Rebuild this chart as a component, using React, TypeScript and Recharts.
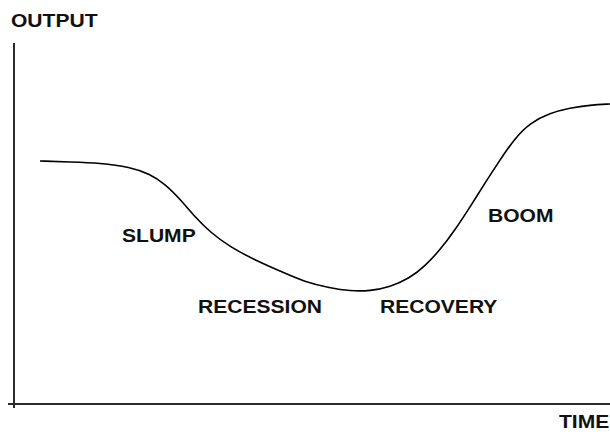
import { LineChart, Line, XAxis, YAxis, ReferenceDot } from 'recharts'

// time / output (arbitrary units)
const TIME = [26, 56, 86, 116, 136, 151, 166, 181, 196, 216, 241, 266, 291, 316, 336, 356, 376, 396, 411, 426, 441, 456, 471, 486, 501, 516, 536, 556, 576, 596]
const OUTPUT = [243, 242, 241, 237, 230, 220, 205, 187, 172, 157, 144, 133, 122, 116, 113, 113, 117, 126, 138, 154, 174, 197, 221, 244, 266, 281, 291, 296, 299, 300]

const LABEL_TEXT = ['OUTPUT', 'SLUMP', 'RECESSION', 'RECOVERY', 'BOOM', 'TIME']
const LABEL_TIME = [-3, 108, 184, 366, 474, 545]
const LABEL_OUTPUT = [377, 162, 91, 91, 182, -24]

const data = TIME.map((t, i) => ({ time: t, output: OUTPUT[i] }))

const renderText = (text: string) => (props: any) => {
  const { x, y } = props.viewBox
  return (
    <text
      transform={`translate(${x},${y}) scale(1.17,1)`}
      fontFamily="'Liberation Sans', Arial, sans-serif"
      fontWeight="bold"
      fontSize={18}
      fill="#111"
    >
      {text}
    </text>
  )
}

const axisStroke = { stroke: '#2a2a2a', strokeWidth: 2 }

export default function App() {
  return (
    <div style={{ position: 'absolute', left: 0, top: 0, background: '#fff' }}>
      <LineChart width={610} height={432} data={data} margin={{ top: 43, right: 0, bottom: 27, left: 13 }}>
        <XAxis
          type="number"
          dataKey="time"
          domain={[0, 596]}
          ticks={[0]}
          tickSize={4}
          tickFormatter={() => ''}
          height={1}
          axisLine={axisStroke}
          tickLine={axisStroke}
        />
        <YAxis
          type="number"
          domain={[0, 361]}
          ticks={[0]}
          tickSize={6}
          tickFormatter={() => ''}
          width={1}
          axisLine={axisStroke}
          tickLine={axisStroke}
        />
        <Line
          type="basis"
          dataKey="output"
          stroke="#000"
          strokeWidth={1.6}
          dot={false}
          isAnimationActive={false}
        />
        {LABEL_TEXT.map((t, i) => (
          <ReferenceDot
            key={t}
            x={LABEL_TIME[i]}
            y={LABEL_OUTPUT[i]}
            r={0}
            stroke="none"
            fill="none"
            ifOverflow="visible"
            label={{ content: renderText(t) }}
          />
        ))}
      </LineChart>
    </div>
  )
}
